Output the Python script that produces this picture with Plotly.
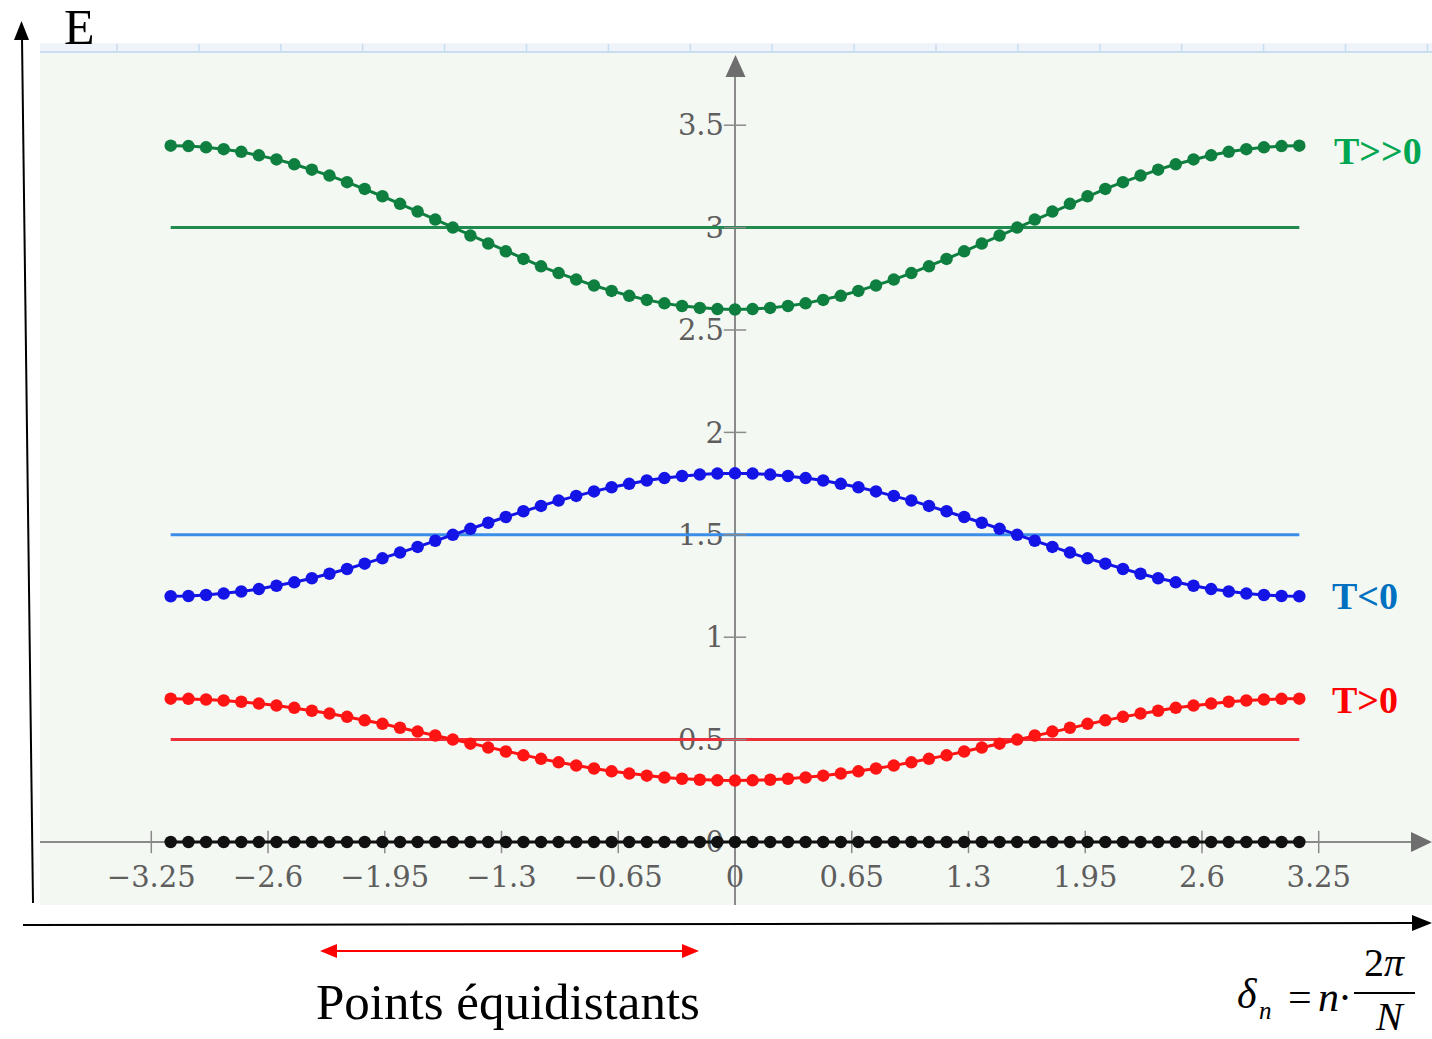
import plotly.graph_objects as go

# ---------------- data ----------------
x_vals = [-3.142, -3.043, -2.945, -2.847, -2.749, -2.651, -2.553, -2.454, -2.356, -2.258,
          -2.160, -2.062, -1.963, -1.865, -1.767, -1.669, -1.571, -1.473, -1.374, -1.276,
          -1.178, -1.080, -0.982, -0.884, -0.785, -0.687, -0.589, -0.491, -0.393, -0.295,
          -0.196, -0.098, 0.0, 0.098, 0.196, 0.295, 0.393, 0.491, 0.589, 0.687,
          0.785, 0.884, 0.982, 1.080, 1.178, 1.276, 1.374, 1.473, 1.571, 1.669,
          1.767, 1.865, 1.963, 2.062, 2.160, 2.258, 2.356, 2.454, 2.553, 2.651,
          2.749, 2.847, 2.945, 3.043, 3.142]

e_high = [3.400, 3.398, 3.392, 3.383, 3.370, 3.353, 3.333, 3.309, 3.283, 3.254,
          3.222, 3.189, 3.153, 3.116, 3.078, 3.039, 3.000, 2.961, 2.922, 2.884,
          2.847, 2.811, 2.778, 2.746, 2.717, 2.691, 2.667, 2.647, 2.630, 2.617,
          2.608, 2.602, 2.600, 2.602, 2.608, 2.617, 2.630, 2.647, 2.667, 2.691,
          2.717, 2.746, 2.778, 2.811, 2.847, 2.884, 2.922, 2.961, 3.000, 3.039,
          3.078, 3.116, 3.153, 3.189, 3.222, 3.254, 3.283, 3.309, 3.333, 3.353,
          3.370, 3.383, 3.392, 3.398, 3.400]

e_neg = [1.200, 1.201, 1.206, 1.213, 1.223, 1.235, 1.251, 1.268, 1.288, 1.310,
         1.333, 1.359, 1.385, 1.413, 1.441, 1.471, 1.500, 1.529, 1.559, 1.587,
         1.615, 1.641, 1.667, 1.690, 1.712, 1.732, 1.749, 1.765, 1.777, 1.787,
         1.794, 1.799, 1.800, 1.799, 1.794, 1.787, 1.777, 1.765, 1.749, 1.732,
         1.712, 1.690, 1.667, 1.641, 1.615, 1.587, 1.559, 1.529, 1.500, 1.471,
         1.441, 1.413, 1.385, 1.359, 1.333, 1.310, 1.288, 1.268, 1.251, 1.235,
         1.223, 1.213, 1.206, 1.201, 1.200]

e_pos = [0.700, 0.699, 0.696, 0.691, 0.685, 0.676, 0.666, 0.655, 0.641, 0.627,
         0.611, 0.594, 0.577, 0.558, 0.539, 0.520, 0.500, 0.480, 0.461, 0.442,
         0.423, 0.406, 0.389, 0.373, 0.359, 0.345, 0.334, 0.324, 0.315, 0.309,
         0.304, 0.301, 0.300, 0.301, 0.304, 0.309, 0.315, 0.324, 0.334, 0.345,
         0.359, 0.373, 0.389, 0.406, 0.423, 0.442, 0.461, 0.480, 0.500, 0.520,
         0.539, 0.558, 0.577, 0.594, 0.611, 0.627, 0.641, 0.655, 0.666, 0.676,
         0.685, 0.691, 0.696, 0.699, 0.700]

e_zero = [0.0, 0.0, 0.0, 0.0, 0.0, 0.0, 0.0, 0.0, 0.0, 0.0,
          0.0, 0.0, 0.0, 0.0, 0.0, 0.0, 0.0, 0.0, 0.0, 0.0,
          0.0, 0.0, 0.0, 0.0, 0.0, 0.0, 0.0, 0.0, 0.0, 0.0,
          0.0, 0.0, 0.0, 0.0, 0.0, 0.0, 0.0, 0.0, 0.0, 0.0,
          0.0, 0.0, 0.0, 0.0, 0.0, 0.0, 0.0, 0.0, 0.0, 0.0,
          0.0, 0.0, 0.0, 0.0, 0.0, 0.0, 0.0, 0.0, 0.0, 0.0,
          0.0, 0.0, 0.0, 0.0, 0.0]

for s in (e_high, e_neg, e_pos, e_zero):
    assert len(s) == len(x_vals), len(s)

level_x = [-3.142, 3.142]
level_values = [3.0, 1.5, 0.5]

x_tick_vals = [-3.25, -2.6, -1.95, -1.3, -0.65, 0, 0.65, 1.3, 1.95, 2.6, 3.25]
x_tick_text = ["\u22123.25", "\u22122.6", "\u22121.95", "\u22121.3", "\u22120.65", "0",
               "0.65", "1.3", "1.95", "2.6", "3.25"]
y_tick_vals = [0, 0.5, 1, 1.5, 2, 2.5, 3, 3.5]
y_tick_text = ["0", "0.5", "1", "1.5", "2", "2.5", "3", "3.5"]

# ---------------- styling ----------------
W, H = 1432, 1039
X_RANGE = [-4.0924, 3.8808]
Y_RANGE = [-0.9619, 4.1113]
AXIS_GREY = "#8a8a8a"
LABEL_GREY = "#5e5e5e"
SERIF = "Liberation Serif, Times New Roman, serif"

curve_colors = ["#0e7f3f", "#1414e6", "#ff1414", "#111111"]
level_colors = ["#1f8b4f", "#3b8ee8", "#ee2f3a"]


def px(x):
    return x / W


def py(y):
    return 1 - y / H


fig = go.Figure()

for level, color in zip(level_values, level_colors):
    fig.add_trace(go.Scatter(x=level_x, y=[level, level], mode="lines",
                             line=dict(color=color, width=3), hoverinfo="skip"))

xt_marks = [t for t in x_tick_vals if t != 0]
yt_marks = [t for t in y_tick_vals if t != 0]
fig.add_trace(go.Scatter(x=xt_marks, y=[0] * len(xt_marks), mode="markers",
                         marker=dict(symbol="line-ns", size=16,
                                     line=dict(width=1.5, color=AXIS_GREY)),
                         hoverinfo="skip"))
fig.add_trace(go.Scatter(x=[0] * len(yt_marks), y=yt_marks, mode="markers",
                         marker=dict(symbol="line-ew", size=16,
                                     line=dict(width=1.5, color=AXIS_GREY)),
                         hoverinfo="skip"))

for ys, color in zip([e_high, e_neg, e_pos, e_zero], curve_colors):
    fig.add_trace(go.Scatter(x=x_vals, y=ys, mode="lines+markers",
                             line=dict(color=color, width=3),
                             marker=dict(size=12.5, color=color)))

shapes = []
# plot background (Desmos-like)
shapes.append(dict(type="rect", xref="paper", yref="paper", x0=px(40), x1=px(1432),
                   y0=py(905), y1=py(43), fillcolor="#f4f8f3", line=dict(width=0),
                   layer="below"))
shapes.append(dict(type="rect", xref="paper", yref="paper", x0=px(40), x1=px(1432),
                   y0=py(52), y1=py(43), fillcolor="#eef4fa", line=dict(width=0),
                   layer="below"))
shapes.append(dict(type="line", xref="paper", yref="paper", x0=px(40), x1=px(1432),
                   y0=py(52), y1=py(52), line=dict(color="#c9ddf1", width=2),
                   layer="below"))
k = 0
while 117 + 81.9 * k < 1432:
    xx = 117 + 81.9 * k
    shapes.append(dict(type="line", xref="paper", yref="paper", x0=px(xx), x1=px(xx),
                       y0=py(52), y1=py(44), line=dict(color="#c9ddf1", width=1.5),
                       layer="below"))
    k += 1

# axes lines
shapes.append(dict(type="line", xref="x", yref="paper", x0=0, x1=0,
                   y0=py(905), y1=py(74), line=dict(color=AXIS_GREY, width=2),
                   layer="below"))
shapes.append(dict(type="line", xref="paper", yref="y", x0=px(40), x1=px(1414),
                   y0=0, y1=0, line=dict(color=AXIS_GREY, width=2), layer="below"))
shapes.append(dict(type="path", xref="paper", yref="paper",
                   path=f"M {px(735.5)} {py(55)} L {px(725.5)} {py(77)} L {px(745.5)} {py(77)} Z",
                   fillcolor="#6e6e6e", line=dict(width=0)))
shapes.append(dict(type="path", xref="paper", yref="paper",
                   path=f"M {px(1432)} {py(842)} L {px(1411)} {py(832)} L {px(1411)} {py(852)} Z",
                   fillcolor="#6e6e6e", line=dict(width=0)))

# outer black arrows
shapes.append(dict(type="line", xref="paper", yref="paper", x0=px(33), x1=px(22),
                   y0=py(903), y1=py(38), line=dict(color="black", width=2)))
shapes.append(dict(type="path", xref="paper", yref="paper",
                   path=f"M {px(21.5)} {py(21)} L {px(14)} {py(40)} L {px(29)} {py(40)} Z",
                   fillcolor="black", line=dict(width=0)))
shapes.append(dict(type="line", xref="paper", yref="paper", x0=px(23), x1=px(1414),
                   y0=py(925), y1=py(923), line=dict(color="black", width=2)))
shapes.append(dict(type="path", xref="paper", yref="paper",
                   path=f"M {px(1432)} {py(923)} L {px(1412)} {py(915)} L {px(1412)} {py(931)} Z",
                   fillcolor="black", line=dict(width=0)))

# red double arrow
shapes.append(dict(type="line", xref="paper", yref="paper", x0=px(330), x1=px(688),
                   y0=py(951), y1=py(951), line=dict(color="red", width=2)))
shapes.append(dict(type="path", xref="paper", yref="paper",
                   path=f"M {px(320)} {py(951)} L {px(337)} {py(944)} L {px(337)} {py(958)} Z",
                   fillcolor="red", line=dict(width=0)))
shapes.append(dict(type="path", xref="paper", yref="paper",
                   path=f"M {px(699)} {py(951)} L {px(682)} {py(944)} L {px(682)} {py(958)} Z",
                   fillcolor="red", line=dict(width=0)))

# fraction bar
shapes.append(dict(type="line", xref="paper", yref="paper", x0=px(1354), x1=px(1415),
                   y0=py(993), y1=py(993), line=dict(color="black", width=2)))


def ann(text, x, y, size, color="black", family=SERIF, xanchor="center"):
    return dict(text=text, xref="paper", yref="paper", x=px(x), y=py(y),
                xanchor=xanchor, yanchor="middle", showarrow=False,
                font=dict(family=family, size=size, color=color))


annotations = [
    ann("E", 79, 27, 50),
    ann("Points équidistants", 508, 1002, 51),
    ann("<b>T&gt;&gt;0</b>", 1332, 151, 38, "#00a651", xanchor="left"),
    ann("<b>T&lt;0</b>", 1330, 596, 38, "#0070c0", xanchor="left"),
    ann("<b>T&gt;0</b>", 1330, 700, 38, "#ff0000", xanchor="left"),
    ann("<i>δ</i>", 1247, 994, 42),
    ann("<i>n</i>", 1265, 1010, 25),
    ann("=", 1300, 997, 42),
    ann("<i>n</i>", 1328, 997, 42),
    ann("·", 1345, 998, 42),
    ann("2<i>π</i>", 1384, 962, 40),
    ann("<i>N</i>", 1390, 1016, 40),
]

fig.update_layout(
    width=W, height=H, autosize=False,
    margin=dict(l=0, r=0, t=0, b=0, pad=0),
    paper_bgcolor="white", plot_bgcolor="rgba(0,0,0,0)",
    showlegend=False,
    shapes=shapes, annotations=annotations,
    xaxis=dict(range=X_RANGE, showgrid=False, zeroline=False, showline=False,
               anchor="free", position=(0 - Y_RANGE[0]) / (Y_RANGE[1] - Y_RANGE[0]),
               tickmode="array", tickvals=x_tick_vals, ticktext=x_tick_text,
               ticks="", ticklabelstandoff=15, layer="below traces",
               tickfont=dict(family="DejaVu Serif", size=29, color=LABEL_GREY)),
    yaxis=dict(range=Y_RANGE, showgrid=False, zeroline=False, showline=False,
               anchor="free", position=(0 - X_RANGE[0]) / (X_RANGE[1] - X_RANGE[0]),
               tickmode="array", tickvals=y_tick_vals, ticktext=y_tick_text,
               ticks="", ticklabelstandoff=11, layer="below traces",
               tickfont=dict(family="DejaVu Serif", size=29, color=LABEL_GREY)),
)

fig.write_html("out.html")
